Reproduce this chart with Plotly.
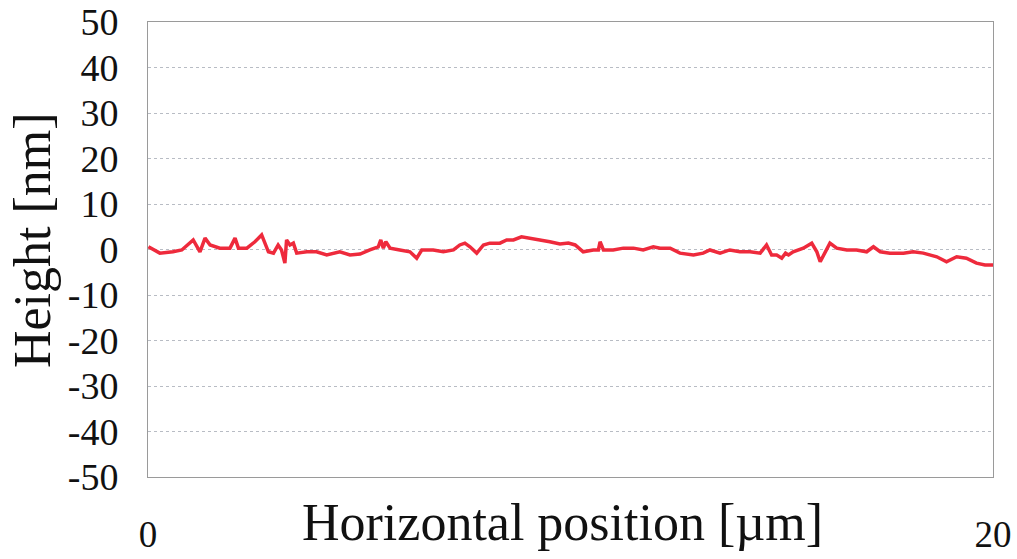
import plotly.graph_objects as go

# Horizontal position [µm]
position_um = [
    0.01, 0.28, 0.59, 0.80, 1.07, 1.23, 1.35, 1.47, 1.70, 1.94, 2.06, 2.14, 2.34, 2.53, 2.69,
    2.85, 2.97, 3.08, 3.16, 3.24, 3.28, 3.36, 3.44, 3.52, 3.76, 3.99, 4.23, 4.54, 4.78,
    5.02, 5.25, 5.45, 5.51, 5.57, 5.63, 5.73, 5.96, 6.20, 6.36, 6.48, 6.75, 6.99, 7.23,
    7.38, 7.50, 7.62, 7.78, 7.94, 8.09, 8.33, 8.49, 8.65, 8.84, 9.04, 9.28, 9.51, 9.75,
    9.95, 10.11, 10.30, 10.54, 10.66, 10.70, 10.78, 11.01, 11.25, 11.49, 11.72, 11.96,
    12.12, 12.36, 12.59, 12.91, 13.14, 13.30, 13.54, 13.77, 14.01, 14.25, 14.49, 14.64,
    14.76, 14.88, 15.00, 15.09, 15.16, 15.27, 15.51, 15.71, 15.83, 15.91, 16.02, 16.14,
    16.30, 16.54, 16.77, 17.01, 17.17, 17.33, 17.56, 17.88, 18.11, 18.35, 18.67, 18.90,
    19.14, 19.37, 19.61, 19.81, 20.00,
]
# Height [nm]
height_nm = [
    0.6, -0.8, -0.5, -0.1, 2.1, -0.5, 2.5, 1.0, 0.3, 0.3, 2.5, 0.3, 0.3, 1.7, 3.2,
    -0.5, -0.8, 1.0, -0.1, -3.0, 2.1, 1.0, 1.4, -0.8, -0.5, -0.5, -1.2, -0.5, -1.2,
    -1.0, -0.1, 0.6, 2.1, 0.3, 1.7, 0.3, -0.1, -0.5, -1.9, -0.1, -0.1, -0.5, -0.1,
    1.0, 1.4, 0.6, -0.8, 1.0, 1.4, 1.4, 2.1, 2.1, 2.8, 2.5, 2.1, 1.7, 1.2,
    1.4, 1.0, -0.5, -0.1, -0.1, 1.7, -0.1, -0.1, 0.3, 0.3, -0.1, 0.6,
    0.3, 0.3, -0.8, -1.2, -0.8, -0.1, -0.8, -0.1, -0.5, -0.5, -0.8, 1.0,
    -1.2, -1.2, -1.9, -0.8, -1.2, -0.5, 0.3, 1.4, -0.5, -2.7, -0.8, 1.4,
    0.3, -0.1, -0.1, -0.5, 0.6, -0.5, -0.8, -0.8, -0.5, -0.8, -1.6, -2.7,
    -1.6, -1.9, -3.0, -3.4, -3.4,
]

y_tick_vals = [50, 40, 30, 20, 10, 0, -10, -20, -30, -40, -50]
y_tick_text = ["50", "40", "30", "20", "10", "0", "-10", "-20", "-30", "-40", "-50"]
x_tick_vals = [0, 20]
x_tick_text = ["0", "20"]

x_title = "Horizontal position [µm]"
y_title = "Height [nm]"

FONT = "Liberation Serif"

fig = go.Figure()
fig.add_trace(go.Scatter(
    x=position_um, y=height_nm, mode="lines",
    line=dict(color="#EE2A3C", width=3.5),
    showlegend=False, hoverinfo="skip",
))

fig.update_layout(
    width=1017, height=559,
    margin=dict(l=148, r=24, t=22, b=82, autoexpand=False),
    paper_bgcolor="white", plot_bgcolor="white",
    font=dict(family=FONT, color="#111111"),
    xaxis=dict(
        range=[0, 20], tickvals=x_tick_vals, ticktext=x_tick_text,
        tickfont=dict(family=FONT, size=37, color="#111111"),
        ticklabelstandoff=25, showgrid=False, zeroline=False,
        showline=True, linecolor="#9a9a9a", linewidth=1, mirror=True,
        ticks="", automargin=False,
    ),
    yaxis=dict(
        range=[-50, 50], tickvals=y_tick_vals, ticktext=y_tick_text,
        tickfont=dict(family=FONT, size=38, color="#111111"),
        ticklabelstandoff=21,
        showgrid=True, gridcolor="#b8bcc4", griddash="dot", gridwidth=1,
        zeroline=False,
        showline=True, linecolor="#9a9a9a", linewidth=1, mirror=True,
        ticks="", automargin=False,
    ),
    annotations=[
        dict(text=x_title, xref="paper", yref="paper", x=0.49, y=-0.101,
             xanchor="center", yanchor="middle", showarrow=False,
             font=dict(family=FONT, size=52, color="#111111")),
        dict(text=y_title, xref="paper", yref="paper", x=-0.136, y=0.521,
             xanchor="center", yanchor="middle", textangle=-90, showarrow=False,
             font=dict(family=FONT, size=52, color="#111111")),
    ],
)

fig.write_html("out.html", config={"displayModeBar": False},
               post_script="document.body.style.margin='0px';")
